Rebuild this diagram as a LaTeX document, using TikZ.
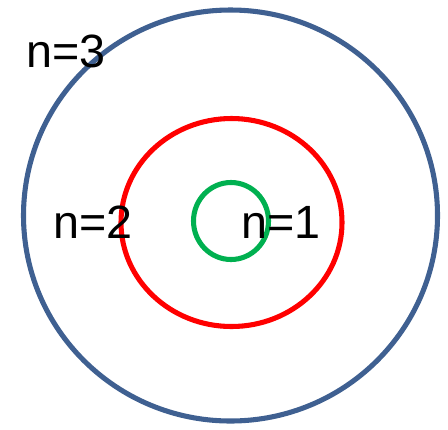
\documentclass[tikz,border=0pt]{standalone}
\usepackage{fontspec}
\setmainfont{Liberation Sans}
\definecolor{orbitblue}{HTML}{3F6091}
\definecolor{orbitred}{HTML}{FF0000}
\definecolor{orbitgreen}{HTML}{00B050}
\begin{document}
\begin{tikzpicture}[x=0.75pt,y=-0.75pt,
  orbit/.style={line width=3.8pt},
  lbl/.style={anchor=base west,inner sep=0pt,font=\fontsize{35}{40}\selectfont}]
\useasboundingbox (0,0) rectangle (448,429);
\draw[orbit,orbitblue] (230.5,215.5) ellipse [x radius=207, y radius=205.5];
\draw[orbit,orbitred] (231.5,222.5) ellipse [x radius=110.5, y radius=104];
\draw[orbit,orbitgreen] (231,221) ellipse [x radius=37.5, y radius=38.5];
\node[lbl] (n3) at (26,67) {n=3};
\node[lbl] (n2) at (53,238) {n=2};
\node[lbl] (n1) at (241,238) {n=1};
\end{tikzpicture}
\end{document}
